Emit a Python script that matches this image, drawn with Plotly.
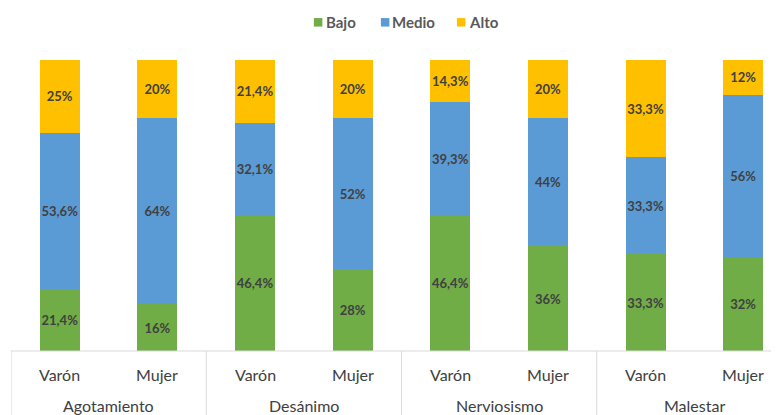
import plotly.graph_objects as go

groups = ["Agotamiento", "Desánimo", "Nerviosismo", "Malestar"]
sexes = ["Varón", "Mujer"]
bajo = [21.4, 16, 46.4, 28, 46.4, 36, 33.3, 32]
medio = [53.6, 64, 32.1, 52, 39.3, 44, 33.3, 56]
alto = [25, 20, 21.4, 20, 14.3, 20, 33.3, 12]
series_names = ["Bajo", "Medio", "Alto"]
colors = ["#70AD47", "#5B9BD5", "#FFC000"]

# page body has an 8px default margin; work in screen pixels and convert
OFF = 8
W, H = 779 - OFF, 415 - OFF
top_s, bottom_s = 59.5, 351          # screen pixels of plot top / baseline
left_s = 11.2                        # screen pixel of x = -0.5
unit_px = 97.6

top_f, bottom_f, left_f = top_s - OFF, bottom_s - OFF, left_s - OFF
plot_h = bottom_f - top_f
plot_w = W - left_f

def px(X):   # screen x -> paper
    return (X - OFF - left_f) / plot_w

def py(Y):   # screen y -> paper
    return (bottom_f - (Y - OFF)) / plot_h

xs = list(range(len(bajo)))
def fmt(v):
    return f"{v:g}".replace(".", ",") + "%"

fig = go.Figure()
for name, vals, col in zip(series_names, [bajo, medio, alto], colors):
    fig.add_trace(go.Bar(
        x=xs, y=vals, name=name, marker=dict(color=col, line=dict(width=0)),
        width=0.41, text=[fmt(v) for v in vals], textposition="inside",
        insidetextanchor="middle", textangle=0,
        textfont=dict(family="Lato", size=13, color="#404040", weight="bold"),
        hoverinfo="skip", showlegend=False,
    ))

xmax = -0.5 + plot_w / unit_px

annotations = []
for gi, g in enumerate(groups):
    for si, s in enumerate(sexes):
        annotations.append(dict(
            x=gi * 2 + si, y=py(375), xref="x", yref="paper",
            text=s, showarrow=False, xanchor="center", yanchor="middle",
            font=dict(family="Lato", size=16, color="#404040")))
    annotations.append(dict(
        x=gi * 2 + 0.5, y=py(406), xref="x", yref="paper",
        text=g, showarrow=False, xanchor="center", yanchor="middle",
        font=dict(family="Lato", size=16, color="#404040")))

shapes = [dict(type="line", xref="x", yref="paper", x0=-0.5, x1=7.5, y0=0, y1=0,
               line=dict(color="#D9D9D9", width=1))]
for b in [-0.5, 1.5, 3.5, 5.5, 7.5]:
    shapes.append(dict(type="line", xref="x", yref="paper", x0=b, x1=b,
                       y0=0, y1=py(416),
                       line=dict(color="#D9D9D9", width=1)))

# custom legend (screen pixel positions of square left edges and text starts)
leg_sq = [314, 381, 457]
leg_tx = [324, 390, 467]
for name, col, sx, tx in zip(series_names, colors, leg_sq, leg_tx):
    shapes.append(dict(type="rect", xref="paper", yref="paper",
                       x0=px(sx), x1=px(sx + 8.5), y0=py(17.5), y1=py(26),
                       fillcolor=col, line=dict(width=0)))
    annotations.append(dict(
        x=px(tx), y=py(21.5), xref="paper", yref="paper", text=name,
        showarrow=False, xanchor="left", yanchor="middle",
        font=dict(family="Lato", size=15, color="#595959", weight="bold")))

fig.update_layout(
    width=W, height=H, barmode="stack",
    plot_bgcolor="white", paper_bgcolor="white",
    margin=dict(l=left_f, r=0, t=top_f, b=H - bottom_f, pad=0),
    xaxis=dict(range=[-0.5, xmax], showticklabels=False, showgrid=False,
               zeroline=False, showline=False, ticks=""),
    yaxis=dict(range=[0, 100], showticklabels=False, showgrid=False,
               zeroline=False, showline=False, ticks=""),
    showlegend=False,
    uniformtext=dict(minsize=13, mode="show"),
    annotations=annotations, shapes=shapes,
)

fig.write_html("out.html")
